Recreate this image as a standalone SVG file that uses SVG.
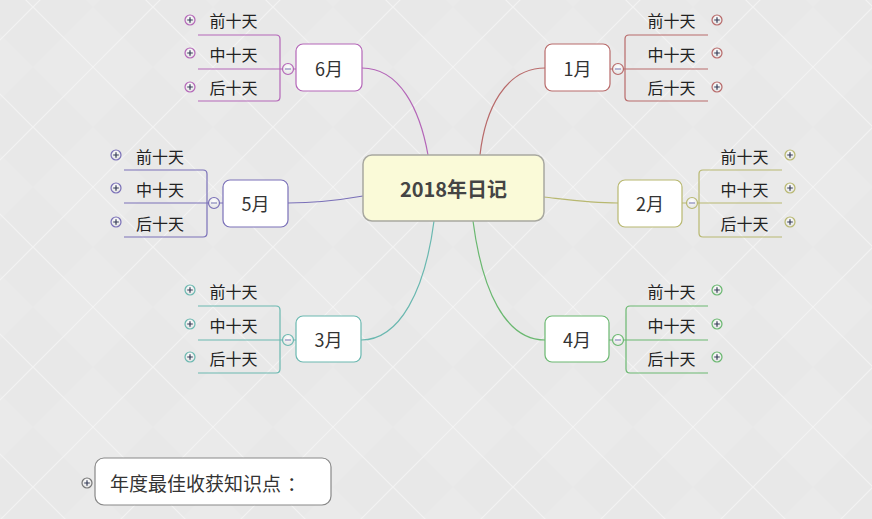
<svg xmlns="http://www.w3.org/2000/svg" xmlns:xlink="http://www.w3.org/1999/xlink" width="872" height="519" viewBox="0 0 872 519">
<defs>
<pattern id="diam" x="33" y="7" width="120" height="120" patternUnits="userSpaceOnUse">
<rect width="120" height="120" fill="#e8e8e8"/>
<path d="M60,0 L0,60 L60,120 L120,60 Z" fill="#eaeaea"/>
<path d="M0,0 L120,120 M120,0 L0,120" stroke="#f3f3f3" stroke-width="1.2" fill="none"/>
</pattern>
<radialGradient id="btn" cx="0.5" cy="0.35" r="0.6">
<stop offset="0" stop-color="#ffffff"/>
<stop offset="1" stop-color="#e4e4e4"/>
</radialGradient>
<symbol id="plus" viewBox="-6 -6 12 12" overflow="visible">
<circle r="5" fill="url(#btn)" stroke="currentColor" stroke-width="1.2"/>
<path d="M-2.8,0 H2.8 M0,-2.8 V2.8" stroke="#333a55" stroke-width="1.2"/>
</symbol>
<symbol id="minus" viewBox="-6 -6 12 12" overflow="visible">
<circle r="5.5" fill="url(#btn)" stroke="currentColor" stroke-width="1.2"/>
<path d="M-3,0 H3" stroke="#8888bb" stroke-width="1.2"/>
</symbol>
</defs>
<style>
.sub{font-family:"Noto Sans CJK SC","Liberation Sans",sans-serif;font-size:16px;fill:#222;text-anchor:middle;dominant-baseline:central}
.mon{font-family:"Noto Sans CJK SC","Liberation Sans",sans-serif;font-size:18px;fill:#333;text-anchor:middle;dominant-baseline:central}
.box{fill:#fff;stroke-width:1.2}
.br{fill:none;stroke-width:1.2}
</style>
<rect width="872" height="519" fill="url(#diam)"/>

<g id="connectors" fill="none" stroke-width="1.2">
<path d="M362,68 C400,68 420,110 428,155" stroke="#b466b8"/>
<path d="M545,68 C505,68 485,110 480,155" stroke="#b86a6a"/>
<path d="M288,203 C320,203 340,200 363,196" stroke="#7a70b8"/>
<path d="M544,197 C570,200 590,203 618,203" stroke="#b8b870"/>
<path d="M361,340 C400,340 425,290 434,221" stroke="#6ab8b0"/>
<path d="M545,340 C505,340 482,290 473,221" stroke="#6ab870"/>
</g>

<g id="center">
<rect x="363" y="155" width="181" height="66" rx="9" fill="#fafad8" stroke="#a8a8a0" stroke-width="1.5"/>
<text x="453.5" y="188" font-family="Noto Sans CJK SC,Liberation Sans,sans-serif" font-size="20" font-weight="bold" fill="#444" text-anchor="middle" dominant-baseline="central">2018年日记</text>
</g>

<g id="m6" style="color:#b466b8">
<path class="br" stroke="#b466b8" d="M198,35 H276 Q280,35 280,39 V97 Q280,101 276,101 H198 M198,69 H296"/>
<rect class="box" x="296" y="44" width="66" height="47" rx="7" stroke="#b466b8"/>
<text class="mon" x="329" y="68">6月</text>
<use xlink:href="#minus" x="282" y="63" width="12" height="12"/>
<use xlink:href="#plus" x="184" y="14" width="12" height="12"/>
<use xlink:href="#plus" x="184" y="47" width="12" height="12"/>
<use xlink:href="#plus" x="184" y="81" width="12" height="12"/>
<text class="sub" x="233.5" y="20">前十天</text>
<text class="sub" x="233.5" y="54">中十天</text>
<text class="sub" x="233.5" y="87">后十天</text>
</g>

<g id="m1" style="color:#b86a6a">
<path class="br" stroke="#b86a6a" d="M708,35 H629 Q625,35 625,39 V97 Q625,101 629,101 H708 M610,69 H708"/>
<rect class="box" x="545" y="44" width="65" height="47" rx="7" stroke="#b86a6a"/>
<text class="mon" x="577.5" y="68">1月</text>
<use xlink:href="#minus" x="612" y="63" width="12" height="12"/>
<use xlink:href="#plus" x="711" y="14" width="12" height="12"/>
<use xlink:href="#plus" x="711" y="47" width="12" height="12"/>
<use xlink:href="#plus" x="711" y="81" width="12" height="12"/>
<text class="sub" x="671.5" y="20">前十天</text>
<text class="sub" x="671.5" y="54">中十天</text>
<text class="sub" x="671.5" y="87">后十天</text>
</g>

<g id="m5" style="color:#7a70b8">
<path class="br" stroke="#7a70b8" d="M124,170 H203 Q207,170 207,174 V233 Q207,237 203,237 H124 M124,203 H223"/>
<rect class="box" x="223" y="180" width="65" height="47" rx="7" stroke="#7a70b8"/>
<text class="mon" x="255.5" y="203">5月</text>
<use xlink:href="#minus" x="208" y="197" width="12" height="12"/>
<use xlink:href="#plus" x="110" y="149" width="12" height="12"/>
<use xlink:href="#plus" x="110" y="182" width="12" height="12"/>
<use xlink:href="#plus" x="110" y="216" width="12" height="12"/>
<text class="sub" x="160" y="156">前十天</text>
<text class="sub" x="160" y="189">中十天</text>
<text class="sub" x="160" y="223">后十天</text>
</g>

<g id="m2" style="color:#b8b870">
<path class="br" stroke="#b8b870" d="M782,170 H703 Q699,170 699,174 V233 Q699,237 703,237 H782 M682,203 H782"/>
<rect class="box" x="618" y="180" width="64" height="47" rx="7" stroke="#b8b870"/>
<text class="mon" x="650" y="203">2月</text>
<use xlink:href="#minus" x="686" y="197" width="12" height="12"/>
<use xlink:href="#plus" x="784" y="149" width="12" height="12"/>
<use xlink:href="#plus" x="784" y="182" width="12" height="12"/>
<use xlink:href="#plus" x="784" y="216" width="12" height="12"/>
<text class="sub" x="744.5" y="156">前十天</text>
<text class="sub" x="744.5" y="189">中十天</text>
<text class="sub" x="744.5" y="223">后十天</text>
</g>

<g id="m3" style="color:#6ab8b0">
<path class="br" stroke="#6ab8b0" d="M198,306 H276 Q280,306 280,310 V369 Q280,373 276,373 H198 M198,340 H296"/>
<rect class="box" x="296" y="316" width="65" height="46" rx="7" stroke="#6ab8b0"/>
<text class="mon" x="328.5" y="339">3月</text>
<use xlink:href="#minus" x="282" y="334" width="12" height="12"/>
<use xlink:href="#plus" x="184" y="284" width="12" height="12"/>
<use xlink:href="#plus" x="184" y="318" width="12" height="12"/>
<use xlink:href="#plus" x="184" y="351" width="12" height="12"/>
<text class="sub" x="233.5" y="291">前十天</text>
<text class="sub" x="233.5" y="325">中十天</text>
<text class="sub" x="233.5" y="358">后十天</text>
</g>

<g id="m4" style="color:#6ab870">
<path class="br" stroke="#6ab870" d="M708,306 H630 Q626,306 626,310 V369 Q626,373 630,373 H708 M609,340 H708"/>
<rect class="box" x="545" y="316" width="64" height="46" rx="7" stroke="#6ab870"/>
<text class="mon" x="577" y="339">4月</text>
<use xlink:href="#minus" x="612" y="334" width="12" height="12"/>
<use xlink:href="#plus" x="711" y="284" width="12" height="12"/>
<use xlink:href="#plus" x="711" y="318" width="12" height="12"/>
<use xlink:href="#plus" x="711" y="351" width="12" height="12"/>
<text class="sub" x="671.5" y="291">前十天</text>
<text class="sub" x="671.5" y="325">中十天</text>
<text class="sub" x="671.5" y="358">后十天</text>
</g>

<g id="note" style="color:#777">
<rect x="95" y="458" width="236" height="47" rx="9" fill="#fff" stroke="#888" stroke-width="1.2"/>
<text x="110" y="482" font-family="Noto Sans CJK SC,Liberation Sans,sans-serif" font-size="19" fill="#333" dominant-baseline="central">年度最佳收获知识点<tspan dx="6">：</tspan></text>
<use xlink:href="#plus" x="81" y="477" width="12" height="12"/>
</g>
</svg>
